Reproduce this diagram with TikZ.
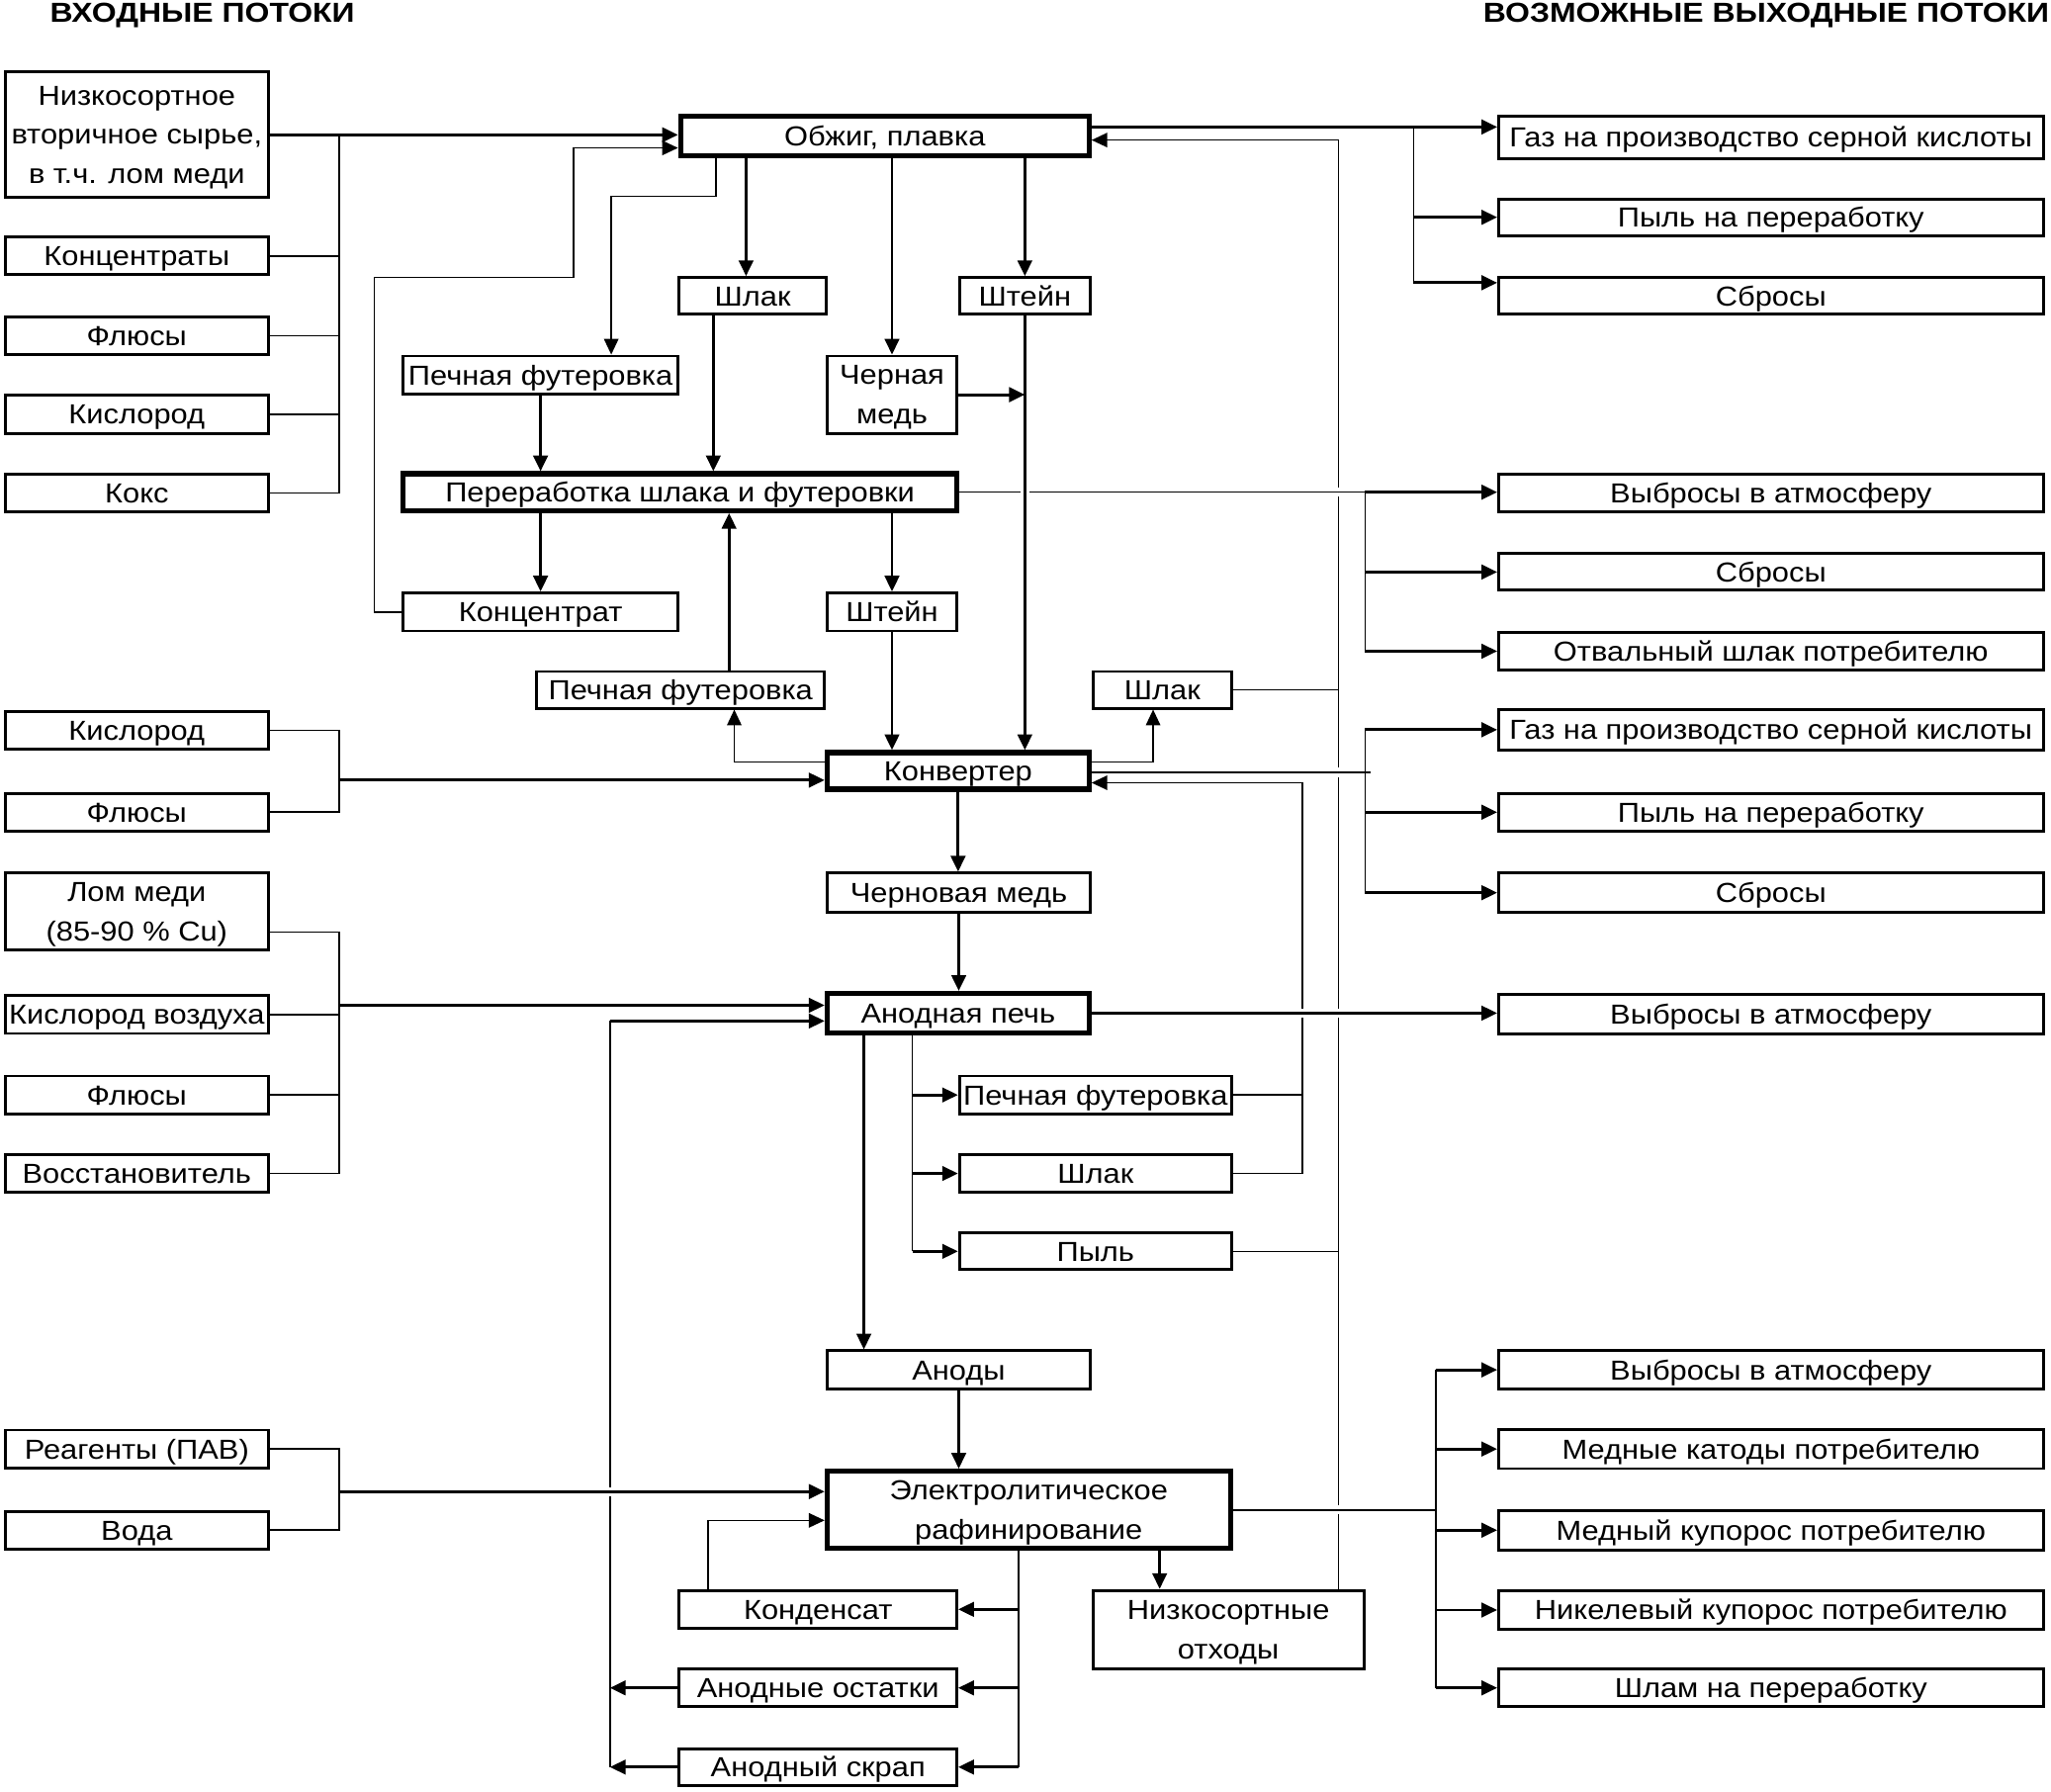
\documentclass[tikz,border=0pt]{standalone}
\usepackage{fontspec}
\setmainfont{Liberation Sans}[FakeStretch=1.11]
\newfontfamily\headfont{Liberation Sans}[FakeStretch=1.15]
\usetikzlibrary{positioning, calc, arrows.meta}
\tikzset{>={Triangle[length=12pt, width=11pt]}}
\tikzset{bridge/.style={preaction={draw=white, line width=7pt, -}}}

\begin{document}
\begin{tikzpicture}
    [x=1pt, y=-1pt,
      frame/.style={draw, line width=2.2pt, align=center, inner sep=0pt,
        text depth=-4pt, font=\fontsize{21}{30}\selectfont},
      box/.style={frame, text height=15pt},
      heavy/.style={box, line width=4pt},
      mheavy/.style={frame, line width=4pt},
      inbox/.style={box, minimum width=201pt, minimum height=29pt},
      outbox/.style={box, minimum width=416pt, minimum height=29pt},
      title/.style={anchor=base west, inner sep=0pt, font=\fontsize{21}{25}\selectfont\headfont\bfseries},
      wire/.style={line width=1.2pt},
      flow/.style={->, line width=2.2pt}]

    \useasboundingbox (0,0) rectangle (1567,1369);
    \clip (0,0) rectangle (1567,1369);

    \node[title] (tin) at (38,17) {ВХОДНЫЕ ПОТОКИ};
    \node[title] (tout) at (1133,17) {ВОЗМОЖНЫЕ ВЫХОДНЫЕ ПОТОКИ};

    % input streams
    \node[frame, minimum width=201pt, minimum height=96pt] (in1) at (104.5,103) {Низкосортное\\вторичное сырье,\\в т.ч. лом меди};
    \node[inbox] (in2) at (104.5,195.5) {Концентраты};
    \node[inbox] (in3) at (104.5,256.5) {Флюсы};
    \node[inbox] (in4) at (104.5,316.5) {Кислород};
    \node[inbox] (in5) at (104.5,376.5) {Кокс};
    \node[inbox] (in6) at (104.5,558) {Кислород};
    \node[inbox] (in7) at (104.5,620.5) {Флюсы};
    \node[frame, minimum width=201pt, minimum height=59pt] (in8) at (104.5,696.5) {Лом меди\\(85-90 \% Cu)};
    \node[inbox] (in9) at (104.5,775) {Кислород воздуха};
    \node[inbox] (in10) at (104.5,836.5) {Флюсы};
    \node[inbox] (in11) at (104.5,896.5) {Восстановитель};
    \node[inbox] (in12) at (104.5,1107) {Реагенты (ПАВ)};
    \node[inbox] (in13) at (104.5,1169) {Вода};

    % output streams
    \node[outbox, minimum height=32pt] (out1) at (1353,105) {Газ на производство серной кислоты};
    \node[outbox, minimum height=28pt] (out2) at (1353,166) {Пыль на переработку};
    \node[outbox, minimum height=28pt] (out3) at (1353,226) {Сбросы};
    \node[outbox] (out4) at (1353,376.5) {Выбросы в атмосферу};
    \node[outbox, minimum height=28pt] (out5) at (1353,437) {Сбросы};
    \node[outbox] (out6) at (1353,497.5) {Отвальный шлак потребителю};
    \node[outbox, minimum height=31pt] (out7) at (1353,557.5) {Газ на производство серной кислоты};
    \node[outbox] (out8) at (1353,620.5) {Пыль на переработку};
    \node[outbox, minimum height=30pt] (out9) at (1353,682) {Сбросы};
    \node[outbox, minimum height=30pt] (out10) at (1353,775) {Выбросы в атмосферу};
    \node[outbox] (out11) at (1353,1046.5) {Выбросы в атмосферу};
    \node[outbox, minimum height=30pt] (out12) at (1353,1107) {Медные катоды потребителю};
    \node[outbox, minimum height=30pt] (out13) at (1353,1169) {Медный купорос потребителю};
    \node[outbox, minimum height=30pt] (out14) at (1353,1230) {Никелевый купорос потребителю};
    \node[outbox] (out15) at (1353,1289.5) {Шлам на переработку};

    % process
    \node[heavy, minimum width=312pt, minimum height=30pt] (ob) at (676,104) {Обжиг, плавка};
    \node[box, minimum width=112pt, minimum height=28pt] (shl1) at (575,226) {Шлак};
    \node[box, minimum width=100pt, minimum height=28pt] (sht1) at (783,226) {Штейн};
    \node[box, minimum width=210pt, minimum height=29pt] (fut1) at (413,286.5) {Печная футеровка};
    \node[frame, minimum width=99pt, minimum height=59pt] (chm) at (681.5,301.5) {Черная\\медь};
    \node[heavy, minimum width=423pt, minimum height=28pt] (per) at (519.5,376) {Переработка шлака и футеровки};
    \node[box, minimum width=210pt, minimum height=29pt] (konc) at (413,467.5) {Концентрат};
    \node[box, minimum width=99pt, minimum height=29pt] (sht2) at (681.5,467.5) {Штейн};
    \node[box, minimum width=220pt, minimum height=28pt] (fut2) at (520,527) {Печная футеровка};
    \node[box, minimum width=106pt, minimum height=28pt] (shl2) at (888,527) {Шлак};
    \node[heavy, minimum width=200pt, minimum height=28pt] (konv) at (732,589) {Конвертер};
    \node[box, minimum width=201pt, minimum height=30pt] (chern) at (732.5,682) {Черновая медь};
    \node[heavy, minimum width=200pt, minimum height=30pt] (anp) at (732,774) {Анодная печь};
    \node[box, minimum width=208pt, minimum height=29pt] (fut3) at (837,836.5) {Печная футеровка};
    \node[box, minimum width=208pt, minimum height=29pt] (shl3) at (837,896.5) {Шлак};
    \node[box, minimum width=208pt, minimum height=28pt] (pyl) at (837,956) {Пыль};
    \node[box, minimum width=201pt, minimum height=29pt] (anody) at (732.5,1046.5) {Аноды};
    \node[mheavy, minimum width=308pt, minimum height=59pt] (elr) at (786,1153.5) {Электролитическое\\рафинирование};
    \node[box, minimum width=212pt, minimum height=29pt] (kond) at (625,1229.5) {Конденсат};
    \node[box, minimum width=212pt, minimum height=29pt] (ost) at (625,1289.5) {Анодные остатки};
    \node[box, minimum width=212pt, minimum height=28pt] (skrap) at (625,1350) {Анодный скрап};
    \node[frame, minimum width=207pt, minimum height=60pt] (otx) at (938.5,1245) {Низкосортные\\отходы};

    % bus lines and bends
    \coordinate (bus) at (259,0);
    \coordinate (obbus) at (1080,0);
    \coordinate (pbus) at (1043,0);
    \coordinate (ebus) at (1097,0);
    \coordinate (kret) at (995,0);
    \coordinate (aret) at (466,0);
    \coordinate (ret) at ($(otx.north)+(84,0)$);
    \coordinate (abr) at ($(anp.south)+(-35,0)$);
    \coordinate (ebr) at ($(elr.south)+(-8,0)$);
    \coordinate (kb) at (286,212);
    \coordinate (kc) at (438,113);
    \coordinate (fb) at (467,150);

    % roasting, smelting
    \draw[flow] (in1.east) -- (in1.east -| ob.west);
    \draw[wire] (in5.east) -| (bus |- in1.east);
    \draw[wire] (in2.east) -- (in2.east -| bus);
    \draw[wire] (in3.east) -- (in3.east -| bus);
    \draw[wire] (in4.east) -- (in4.east -| bus);
    \draw[wire, ->] (konc.west) -| (kb) -| (kc) -- (kc -| ob.west);
    \draw[wire, ->] ($(ob.south west)+(29,0)$) |- (fb) -- (fb |- fut1.north);

    \draw[flow] ($(ob.south -| shl1.north)+(-5,0)$) -- ($(shl1.north)+(-5,0)$);
    \draw[flow] (ob.south -| chm.north) -- (chm.north);
    \draw[flow] (ob.south -| sht1.north) -- (sht1.north);
    \draw[flow] ($(ob.east)+(0,-7)$) -- ($(ob.east -| out1.west)+(0,-7)$);
    \draw[wire] ($(ob.east -| obbus)+(0,-7)$) -- ($(obbus |- out3.west)+(0,-10)$);
    \draw[flow] (obbus |- out2.west) -- (out2.west);
    \draw[flow] ($(obbus |- out3.west)+(0,-10)$) -- ($(out3.west)+(0,-10)$);

    % slag and lining
    \draw[flow] ($(shl1.south)+(-30,0)$) -- ($(shl1.south |- per.north)+(-30,0)$);
    \draw[flow] (fut1.south) -- (fut1.south |- per.north);
    \draw[flow] (per.south -| konc.north) -- (konc.north);
    \draw[flow] (per.south -| sht2.north) -- (sht2.north);
    \draw[flow] (sht2.south) -- (sht2.south |- konv.north);
    \draw[flow] ($(fut2.north)+(37,0)$) -- ($(fut2.north |- per.south)+(37,0)$);

    % return to roasting
    \draw[wire, ->] (ret) |- ($(ob.east)+(0,3)$);
    \draw[wire] (shl2.east) -- (shl2.east -| ret);
    \draw[wire] (pyl.east) -- (pyl.east -| ret);

    \draw[wire, bridge] (per.east) -- (per.east -| pbus);
    \draw[flow, bridge] (sht1.south) -- (sht1.south |- konv.north);
    \draw[flow] (chm.east) -- (chm.east -| sht1.south);
    \draw[flow] (per.east -| pbus) -- (per.east -| out4.west);
    \draw[wire] (per.east -| pbus) -- (pbus |- out6.west);
    \draw[flow] (pbus |- out5.west) -- (out5.west);
    \draw[flow] (pbus |- out6.west) -- (out6.west);

    % converter
    \draw[flow] ($(bus |- konv.west)+(0,7)$) -- ($(konv.west)+(0,7)$);
    \draw[wire] (in6.east) -| (bus |- in7.east) -- (in7.east);
    \draw[wire, ->] ($(konv.west)+(0,-7)$) -| ($(fut2.south)+(41,0)$);
    \draw[wire, ->] ($(konv.east)+(0,-7)$) -| ($(shl2.south)+(-7,0)$);
    \draw[wire, bridge] ($(konv.east)+(0,1)$) -- ($(konv.east -| pbus)+(4,1)$);
    \draw[wire] (pbus |- out7.west) -- (pbus |- out9.west);
    \draw[flow] (pbus |- out7.west) -- (out7.west);
    \draw[flow] (pbus |- out8.west) -- (out8.west);
    \draw[flow] (pbus |- out9.west) -- (out9.west);
    \draw[flow] (konv.south) -- (konv.south |- chern.north);

    \draw[wire, ->] (shl3.east) -| ($(kret |- konv.east)+(0,9)$) -- ($(konv.east)+(0,9)$);
    \draw[wire] (fut3.east) -- (fut3.east -| kret);

    % anode furnace
    \draw[flow] (chern.south) -- (chern.south |- anp.north);
    \draw[wire] ($(in8.east)+(0,15.5)$) -| (bus |- in11.east) -- (in11.east);
    \draw[wire] (in9.east) -- (in9.east -| bus);
    \draw[wire] (in10.east) -- (in10.east -| bus);
    \draw[flow] ($(bus |- anp.west)+(0,-6)$) -- ($(anp.west)+(0,-6)$);
    \draw[flow, bridge] (anp.east) -- (anp.east -| out10.west);
    \draw[wire] (abr) -- (abr |- pyl.west);
    \draw[flow] (abr |- fut3.west) -- (fut3.west);
    \draw[flow] (abr |- shl3.west) -- (shl3.west);
    \draw[flow] (abr |- pyl.west) -- (pyl.west);
    \draw[flow] ($(anp.south)+(-72,0)$) -- ($(anp.south |- anody.north)+(-72,0)$);

    % electrolytic refining
    \draw[flow] (anody.south) -- (anody.south |- elr.north);
    \draw[wire] (aret |- skrap.west) -- ($(aret |- anp.west)+(0,6)$);
    \draw[flow] ($(aret |- anp.west)+(0,6)$) -- ($(anp.west)+(0,6)$);
    \draw[flow] (ost.west) -- (ost.west -| aret);
    \draw[flow] (skrap.west) -- (skrap.west -| aret);
    \draw[flow, bridge] ($(bus |- elr.west)+(0,-14)$) -- ($(elr.west)+(0,-14)$);
    \draw[wire] (in12.east) -| (bus |- in13.east) -- (in13.east);
    \draw[wire, ->] ($(kond.north)+(-84,0)$) |- ($(elr.west)+(0,8)$);
    \draw[flow] ($(elr.south)+(100,0)$) -- ($(otx.north)+(-52.5,0)$);
    \draw[wire] (ebr) -- (ebr |- skrap.east);
    \draw[flow] (ebr |- kond.east) -- (kond.east);
    \draw[flow] (ebr |- ost.east) -- (ost.east);
    \draw[flow] (ebr |- skrap.east) -- (skrap.east);
    \draw[wire, bridge] (elr.east) -- (elr.east -| ebus);
    \draw[wire] (ebus |- out11.west) -- (ebus |- out15.west);
    \foreach \n in {out11, out12, out13, out14, out15}
      \draw[flow] (ebus |- \n.west) -- (\n.west);
  \end{tikzpicture}
\end{document}
